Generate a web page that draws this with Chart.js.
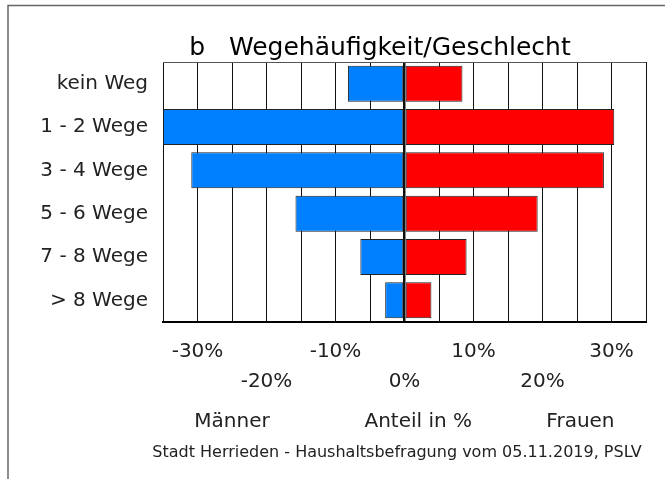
<!DOCTYPE html>
<html>
<head>
<meta charset="utf-8">
<script src="https://cdn.jsdelivr.net/npm/chart.js@4"></script>
<style>
  html, body { margin: 0; padding: 0; background: #fff; }
</style>
</head>
<body>
<canvas id="chart" width="665" height="479"></canvas>
<script>
// Chart data
const categories = ['kein Weg', '1 - 2 Wege', '3 - 4 Wege', '5 - 6 Wege', '7 - 8 Wege', '> 8 Wege'];
const maenner = [-8.2, -35, -30.9, -15.8, -6.4, -2.8];
const frauen = [8.4, 30.4, 28.9, 19.3, 9.0, 3.9];
const tickStep = 5;
const labelStep = 10;

const FONT = '"DejaVu Sans", sans-serif';

// Title, axis captions, footer and frame
const decorations = {
    id: 'decorations',
    afterDraw(chart) {
        const ctx = chart.ctx;
        const x = chart.scales.x;
        const area = chart.chartArea;
        ctx.save();
        // frame
        ctx.strokeStyle = '#666';
        ctx.lineWidth = 1.5;
        ctx.beginPath();
        ctx.moveTo(8, 479);
        ctx.lineTo(8, 5.5);
        ctx.lineTo(665, 5.5);
        ctx.stroke();
        // top line of plot
        ctx.strokeStyle = '#555';
        ctx.lineWidth = 1;
        ctx.beginPath();
        ctx.moveTo(area.left, area.top + 0.5);
        ctx.lineTo(area.right, area.top + 0.5);
        ctx.stroke();

        ctx.fillStyle = '#000';
        ctx.textAlign = 'center';
        ctx.textBaseline = 'alphabetic';
        ctx.font = '25px ' + FONT;
        ctx.fillText('b   Wegehäufigkeit/Geschlecht', 380, 55);

        ctx.fillStyle = '#222';
        ctx.font = '20px ' + FONT;
        ctx.textBaseline = 'middle';
        ctx.fillText('Männer', x.getPixelForValue(-25), 422);
        ctx.fillText('Anteil in %', x.getPixelForValue(2), 422);
        ctx.fillText('Frauen', x.getPixelForValue(25.5), 422);

        ctx.font = '16px ' + FONT;
        ctx.fillText('Stadt Herrieden - Haushaltsbefragung vom 05.11.2019, PSLV', 397, 453);
        ctx.restore();
    }
};

const ctx = document.getElementById('chart').getContext('2d');
new Chart(ctx, {
    type: 'bar',
    data: {
        labels: categories,
        datasets: [{
            label: 'Männer',
            data: maenner,
            backgroundColor: '#0080ff',
            borderColor: '#222',
            borderWidth: 1,
            borderSkipped: false
        }, {
            label: 'Frauen',
            data: frauen,
            backgroundColor: '#ff0000',
            borderColor: '#222',
            borderWidth: 1,
            borderSkipped: false
        }]
    },
    options: {
        indexAxis: 'y',
        responsive: false,
        animation: false,
        layout: { padding: { top: 62, right: 19, left: 0, bottom: 0 } },
        datasets: { bar: { barPercentage: 0.83, categoryPercentage: 1 } },
        plugins: {
            legend: { display: false },
            title: { display: false },
            tooltip: { enabled: false }
        },
        scales: {
            x: {
                stacked: true,
                min: -35,
                max: 35,
                afterFit(scale) { scale.height = 157; },
                grid: {
                    color: '#111',
                    lineWidth: c => (c.tick && c.tick.value === 0 ? 2.5 : 1),
                    drawTicks: false
                },
                border: { display: true, color: '#000', width: 2 },
                ticks: {
                    stepSize: tickStep,
                    autoSkip: false,
                    maxRotation: 0,
                    padding: 15,
                    color: '#222',
                    font: { family: FONT, size: 20, lineHeight: 1.5 },
                    callback: function(value) {
                        if (value % labelStep !== 0) return '';
                        const txt = value + '%';
                        return (Math.abs(value) / labelStep) % 2 === 1 ? [txt, ''] : ['', txt];
                    }
                }
            },
            y: {
                stacked: true,
                afterFit(scale) { scale.width = 163; },
                grid: { display: false },
                border: { display: false },
                ticks: {
                    padding: 7,
                    color: '#222',
                    font: { family: FONT, size: 20 }
                }
            }
        }
    },
    plugins: [decorations]
});
</script>
</body>
</html>
